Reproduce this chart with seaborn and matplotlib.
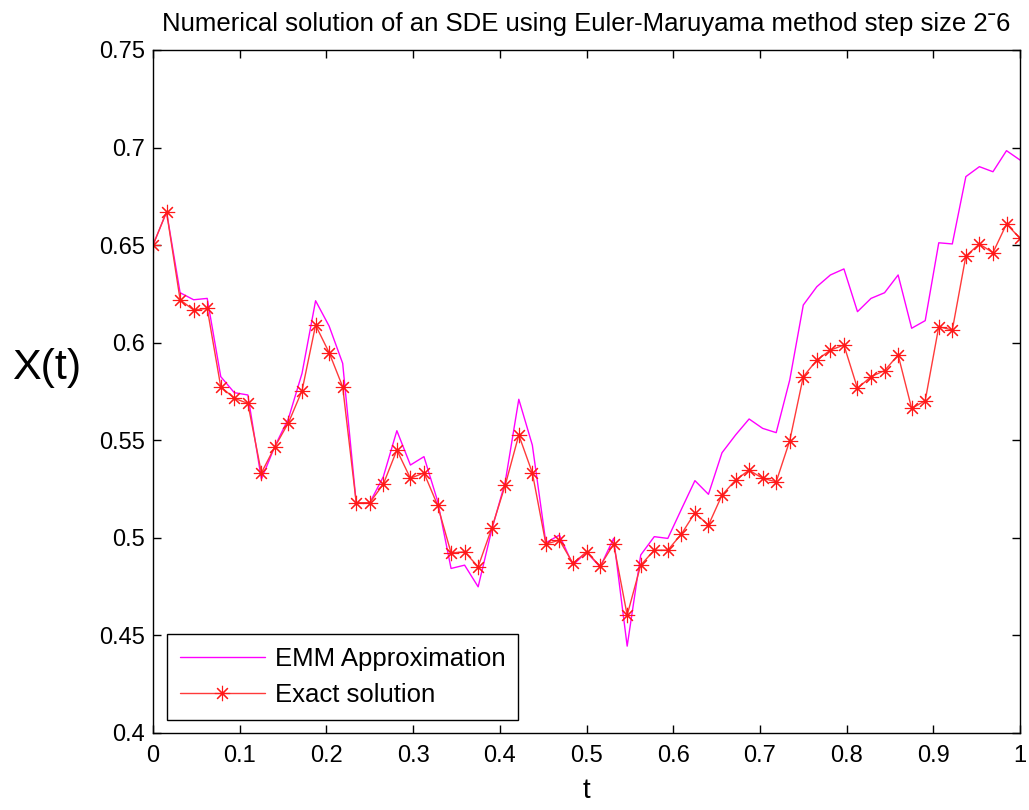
import numpy as np
import pandas as pd
import matplotlib
matplotlib.use('Agg')
import matplotlib.pyplot as plt
import seaborn as sns

# time grid, step 2^-6
t = np.arange(65) / 64

# EMM approximation (magenta)
emm = [0.650, 0.667, 0.6256, 0.622, 0.6227, 0.5826, 0.5744, 0.5732, 0.530, 0.547,
       0.5612, 0.5843, 0.6215, 0.6085, 0.5894, 0.518, 0.518, 0.5313, 0.5549, 0.5373,
       0.5416, 0.5190, 0.4843, 0.486, 0.4749, 0.504, 0.5287, 0.571, 0.5475, 0.4975,
       0.5014, 0.486, 0.4928, 0.485, 0.4997, 0.4445, 0.4912, 0.5006, 0.4997, 0.5146,
       0.5293, 0.5223, 0.5436, 0.5527, 0.5609, 0.5561, 0.5539, 0.5809, 0.6193, 0.6287,
       0.6347, 0.6378, 0.6159, 0.6227, 0.6256, 0.6347, 0.6074, 0.6113, 0.6512, 0.6506,
       0.6851, 0.6902, 0.6876, 0.6984, 0.6936]

# exact solution (red, asterisks)
exact = [0.650, 0.667, 0.622, 0.6167, 0.6176, 0.5774, 0.5715, 0.5689, 0.5333, 0.5467,
         0.559, 0.5754, 0.609, 0.5949, 0.5774, 0.518, 0.518, 0.5275, 0.545, 0.5305,
         0.5333, 0.5168, 0.4923, 0.4928, 0.4852, 0.5049, 0.527, 0.5527, 0.5333, 0.4968,
         0.4988, 0.4869, 0.4928, 0.4855, 0.4968, 0.4604, 0.486, 0.4937, 0.4937, 0.5019,
         0.5128, 0.5065, 0.5219, 0.5296, 0.5347, 0.5305, 0.5287, 0.5498, 0.5826, 0.5911,
         0.5962, 0.5988, 0.5766, 0.5826, 0.5857, 0.5937, 0.5663, 0.5703, 0.6082, 0.6065,
         0.6444, 0.6506, 0.6461, 0.6608, 0.6535]

xtick_labels = ['0', '0.1', '0.2', '0.3', '0.4', '0.5', '0.6', '0.7', '0.8', '0.9', '1']
ytick_labels = ['0.4', '0.45', '0.5', '0.55', '0.6', '0.65', '0.7', '0.75']

df = pd.DataFrame({'t': t, 'EMM': emm, 'Exact': exact})

sns.set_style('white')
plt.rcParams['font.family'] = ['Liberation Sans', 'DejaVu Sans']
plt.rcParams['text.color'] = 'black'
plt.rcParams['axes.labelcolor'] = 'black'

fig = plt.figure(figsize=(10.29, 8.10), dpi=100)
ax = fig.add_axes([0.1487, 0.0951, 0.9913 - 0.1487, 0.9383 - 0.0951])

sns.lineplot(data=df, x='t', y='EMM', ax=ax, color='#ff00ff', linewidth=1.0,
             label='EMM Approximation')
sns.lineplot(data=df, x='t', y='Exact', ax=ax, color='#ff3a3a', linewidth=1.0,
             marker=(8, 2, 0), markersize=11, markeredgecolor='#ff1a1a',
             markeredgewidth=0.8, label='Exact solution')

ax.set_xlim(0, 1)
ax.set_ylim(0.4, 0.75)
ax.set_xticks(np.linspace(0, 1, len(xtick_labels)))
ax.set_xticklabels(xtick_labels)
ax.set_yticks(np.linspace(0.4, 0.75, len(ytick_labels)))
ax.set_yticklabels(ytick_labels)
ax.tick_params(direction='in', length=6, width=1, labelsize=17, top=True, right=True,
               bottom=True, left=True, colors='black')
ax.tick_params(axis='x', pad=9)
ax.tick_params(axis='y', pad=6)
for s in ax.spines.values():
    s.set_color('black')
    s.set_linewidth(1.0)
    s.set_visible(True)

ax.set_title('Numerical solution of an SDE using Euler-Maruyama method step size 2\u02c96',
             fontsize=18.5, pad=14, color='black')
ax.set_xlabel('t', fontsize=20, va='center')
ax.xaxis.set_label_coords(0.5, -0.085)
ax.set_ylabel('X(t)', fontsize=31, rotation=0, va='center', ha='center')
ax.yaxis.set_label_coords(-0.123, 0.534)

leg = ax.legend(loc='lower left', bbox_to_anchor=(0.016, 0.019), fontsize=18.5,
                frameon=True, fancybox=False, edgecolor='black', framealpha=1,
                handlelength=3.3, handletextpad=0.4, borderpad=0.5,
                labelspacing=0.48, borderaxespad=0)
leg.get_frame().set_linewidth(1.0)
for txt in leg.get_texts():
    txt.set_color('black')

fig.savefig('out.png', dpi=100)
